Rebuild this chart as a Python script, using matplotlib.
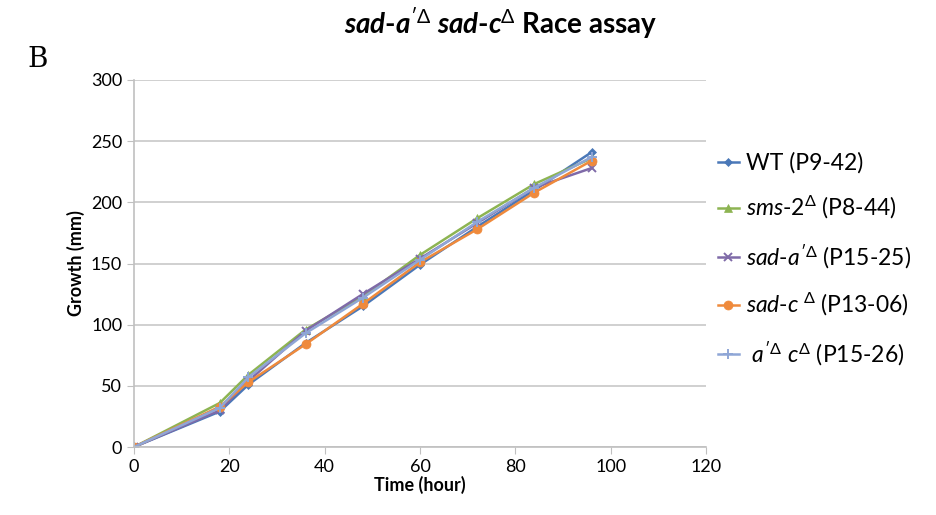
import matplotlib.pyplot as plt

plt.rcParams['font.family'] = ['Lato', 'DejaVu Sans']
plt.rcParams['mathtext.fontset'] = 'custom'
plt.rcParams['mathtext.rm'] = 'Lato'
plt.rcParams['mathtext.it'] = 'Lato:italic'
plt.rcParams['mathtext.bf'] = 'Lato:bold'
plt.rcParams['mathtext.bfit'] = 'Lato:italic:bold'

# time points (hours)
hours = [0, 18, 24, 36, 48, 60, 72, 84, 96]

# growth (mm) per strain
wt = [0, 29, 51, 85, 115, 149, 180, 210, 241]
sms2 = [0, 36, 59, 96, 123, 157, 187, 215, 236]
sad_a = [0, 30, 54, 95, 125, 154, 183, 212, 228]
sad_c = [0, 33, 53, 84, 117, 151, 178, 208, 234]
a_c = [0, 32, 57, 93, 122, 153, 184, 212, 237]

labels = [
    'WT (P9-42)',
    r'$\mathit{sms}$-$\mathit{2}^{\Delta}$ (P8-44)',
    r'$\mathit{sad}$-$\mathit{a}^{\prime\Delta}$ (P15-25)',
    r'$\mathit{sad}$-$\mathit{c}^{\ \Delta}$ (P13-06)',
    r' $\mathit{a}^{\prime\Delta}\ \mathit{c}^{\Delta}$ (P15-26)',
]
series = [wt, sms2, sad_a, sad_c, a_c]
colors = ['#4a78b8', '#8db452', '#7f6aa8', '#ef8a3c', '#8fa6d6']
markers = ['D', '^', 'x', 'o', '+']
msizes = [4.5, 5.5, 6, 6.5, 7]

fig = plt.figure(figsize=(9.36, 5.15), dpi=100)
ax = fig.add_axes([134 / 936, 1 - 447 / 515, (706 - 134) / 936, (447 - 80) / 515])

for y, lab, c, m, ms in zip(series, labels, colors, markers, msizes):
    ax.plot(hours, y, color=c, marker=m, markersize=ms, linewidth=1.8,
            label=lab, markeredgewidth=1.4 if m in 'x+' else 0.5)

ax.set_xlim(0, 120)
ax.set_ylim(0, 300)
ax.set_xticks(range(0, 121, 20))
ax.set_yticks(range(0, 301, 50))
ax.grid(axis='y', color='#c8c8c8', linewidth=1.2)
ax.set_axisbelow(True)
for s in ['top', 'right']:
    ax.spines[s].set_visible(False)
for s in ['left', 'bottom']:
    ax.spines[s].set_color('#c0c0c0')
    ax.spines[s].set_linewidth(1.2)
ax.tick_params(colors='#c0c0c0', labelcolor='black', labelsize=13, length=5)

ax.set_xlabel('Time (hour)', fontsize=13, fontweight='bold', labelpad=1)
ax.set_ylabel('Growth (mm)', fontsize=13, fontweight='bold', labelpad=4)

fig.text(0.535, 0.955, r'$\mathbfit{sad}$-$\mathbfit{a}^{\prime\Delta}$ $\mathbfit{sad}$-$\mathbfit{c}^{\Delta}$ Race assay',
         fontsize=20, fontweight='bold', ha='center', va='center')
fig.text(0.04, 0.885, 'B', fontsize=20, family='DejaVu Serif', ha='center', va='center')

ax.legend(loc='center left', bbox_to_anchor=(0.985, 0.51), frameon=False,
          fontsize=16.5, handlelength=0.9, handletextpad=0.3, labelspacing=0.9)

fig.savefig('out.png', dpi=100)
